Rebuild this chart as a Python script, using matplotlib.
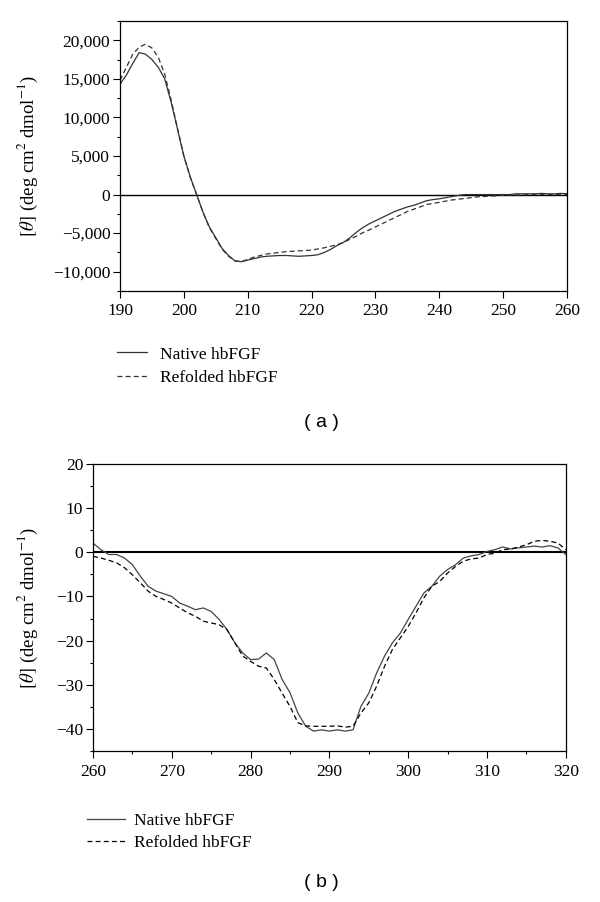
import numpy as np
import matplotlib
matplotlib.use('Agg')
import matplotlib.pyplot as plt
from matplotlib.ticker import MultipleLocator, FuncFormatter

plt.rcParams['font.family'] = ['Liberation Serif', 'DejaVu Serif']
plt.rcParams['mathtext.fontset'] = 'stix'
plt.rcParams['font.size'] = 12.5

# ---- panel (a): far-UV CD spectrum, 190-260 nm ----
wl_a = np.arange(190, 261)
native_a = [14300, 15500, 17000, 18400, 18200, 17500, 16500, 15000, 12000, 8500,
            5000, 2300, 0, -2300, -4200, -5600, -7000, -7900, -8600, -8700,
            -8500, -8300, -8100, -8000, -7950, -7900, -7900, -7950, -8000, -7950,
            -7900, -7800, -7500, -7100, -6600, -6200, -5600, -4900, -4300, -3800,
            -3400, -3000, -2600, -2200, -1900, -1600, -1400, -1100, -800, -650,
            -550, -400, -250, -100, 0, 0, 0, 0, 0, 0,
            0, 0, 100, 100, 100, 100, 150, 100, 100, 150, 100]
refolded_a = [14800, 16500, 18200, 19100, 19500, 19000, 17800, 15600, 12300, 8600,
              5000, 2200, 0, -2300, -4300, -5700, -7100, -8000, -8600, -8700,
              -8400, -8100, -7900, -7700, -7600, -7500, -7400, -7350, -7300, -7250,
              -7200, -7050, -6900, -6700, -6500, -6200, -5800, -5400, -4950, -4600,
              -4200, -3800, -3400, -3000, -2600, -2200, -1900, -1600, -1300, -1150,
              -1000, -850, -700, -600, -500, -400, -300, -250, -200, -150,
              -100, -50, -50, -50, 0, 0, 0, 0, 0, 0, 0]

# ---- panel (b): near-UV CD spectrum, 260-320 nm ----
wl_b = np.arange(260, 321)
native_b = [2.1, 0.6, -0.5, -0.5, -1.3, -2.8, -5.4, -7.7, -8.8, -9.4,
            -10.0, -11.5, -12.2, -13.0, -12.6, -13.4, -15.2, -17.5, -20.5, -22.8,
            -24.3, -24.2, -22.8, -24.3, -28.8, -31.8, -36.4, -39.4, -40.5, -40.2,
            -40.5, -40.2, -40.5, -40.2, -34.9, -31.9, -27.3, -23.5, -20.5, -18.3,
            -15.2, -12.2, -9.2, -7.7, -5.4, -3.9, -2.8, -1.3, -0.8, -0.5,
            0.2, 0.6, 1.2, 0.75, 1.0, 1.2, 1.4, 1.2, 1.5, 1.0, -0.5]
refolded_b = [-0.9, -1.3, -1.8, -2.4, -3.5, -5.1, -6.9, -8.8, -10.0, -10.7,
              -11.5, -12.6, -13.7, -14.5, -15.6, -16.0, -16.4, -17.5, -20.5, -23.5,
              -24.7, -25.8, -26.2, -28.8, -31.9, -34.9, -38.6, -39.3, -39.4, -39.4,
              -39.4, -39.3, -39.6, -39.4, -36.4, -34.1, -30.3, -25.8, -22.0, -19.4,
              -16.8, -13.7, -10.3, -7.7, -6.6, -4.7, -3.2, -2.0, -1.5, -1.3,
              -0.5, -0.2, 0.6, 0.75, 1.2, 1.7, 2.5, 2.7, 2.5, 2.1, 0.6]

series_labels = ['Native hbFGF', 'Refolded hbFGF']
ylabel = r'$[\theta]$ (deg cm$^2$ dmol$^{-1}$)'


def style_axes(ax):
    for s in ax.spines.values():
        s.set_linewidth(0.9)
    ax.tick_params(which='both', direction='out', top=False, right=False)
    ax.tick_params(which='major', length=5, width=0.8, labelsize=12.5)
    ax.tick_params(which='minor', length=2.5, width=0.8)
    ax.tick_params(axis='x', pad=4)
    ax.tick_params(axis='y', pad=2)


fig = plt.figure(figsize=(6, 9.02), dpi=100)

ax1 = fig.add_axes([0.2, 0.6774, 0.745, 0.2993])
ax1.axhline(0, color='black', lw=1.0)
l1, = ax1.plot(wl_a, native_a, color='#333333', lw=0.9, ls='-')
l2, = ax1.plot(wl_a, refolded_a, color='#333333', lw=0.9, ls=(0, (4, 2.5)))
ax1.set_xlim(190, 260)
ax1.set_ylim(-12500, 22500)
ax1.xaxis.set_major_locator(MultipleLocator(10))
ax1.yaxis.set_major_locator(MultipleLocator(5000))
ax1.yaxis.set_minor_locator(MultipleLocator(2500))
ax1.yaxis.set_major_formatter(FuncFormatter(lambda v, p: f'{v:,.0f}'.replace('-', '\u2212')))
style_axes(ax1)
ax1.set_ylabel(ylabel, fontsize=13.5)
ax1.yaxis.set_label_coords(-0.179, 0.5)
ax1.legend([l1, l2], series_labels, loc='upper left', bbox_to_anchor=(0.195, 0.616),
           bbox_transform=fig.transFigure, frameon=False, borderpad=0, borderaxespad=0,
           handlelength=1.7, handletextpad=0.8, labelspacing=0.4, fontsize=12.5)
fig.text(0.535, 0.532, '( a )', family='Liberation Sans', fontsize=14, ha='center', va='center')

ax2 = fig.add_axes([0.155, 0.1674, 0.788, 0.3182])
ax2.axhline(0, color='black', lw=1.5)
m1, = ax2.plot(wl_b, native_b, color='#444444', lw=0.9, ls='-')
m2, = ax2.plot(wl_b, refolded_b, color='black', lw=0.9, ls=(0, (4, 2.5)))
ax2.set_xlim(260, 320)
ax2.set_ylim(-45, 20)
ax2.xaxis.set_major_locator(MultipleLocator(10))
ax2.xaxis.set_minor_locator(MultipleLocator(5))
ax2.yaxis.set_major_locator(MultipleLocator(10))
ax2.yaxis.set_minor_locator(MultipleLocator(5))
ax2.yaxis.set_major_formatter(FuncFormatter(lambda v, p: f'{v:.0f}'.replace('-', '\u2212')))
style_axes(ax2)
ax2.set_ylabel(ylabel, fontsize=13.5)
ax2.yaxis.set_label_coords(-0.112, 0.5)
ax2.legend([m1, m2], series_labels, loc='upper left', bbox_to_anchor=(0.145, 0.0985),
           bbox_transform=fig.transFigure, frameon=False, borderpad=0, borderaxespad=0,
           handlelength=2.2, handletextpad=0.5, labelspacing=0.3, fontsize=12.5)
fig.text(0.535, 0.022, '( b )', family='Liberation Sans', fontsize=14, ha='center', va='center')

fig.savefig('out.png', dpi=100)
